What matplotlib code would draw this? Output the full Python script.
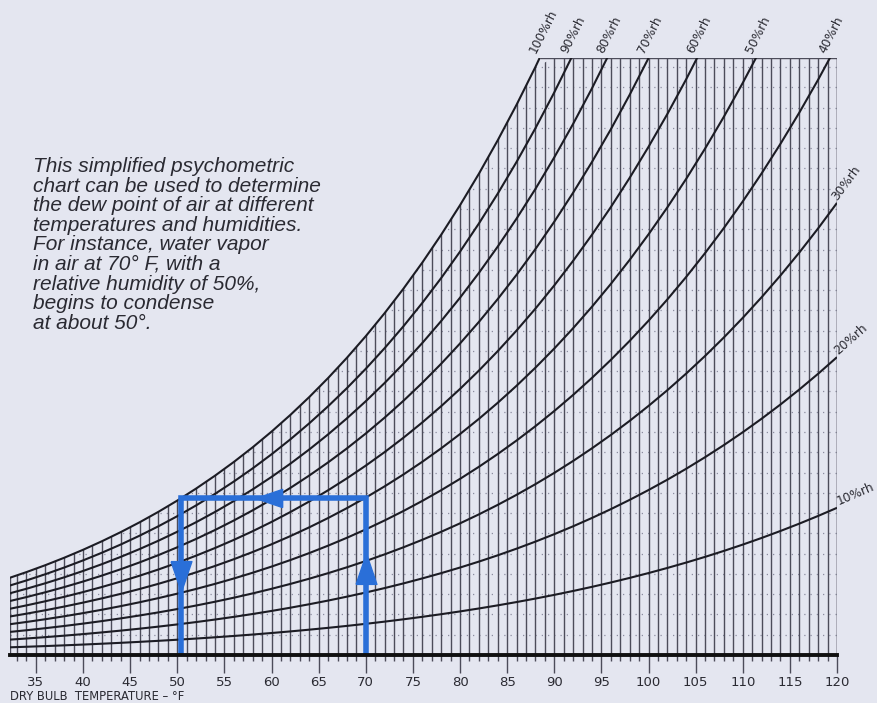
import numpy as np
import matplotlib
matplotlib.use("Agg")
import matplotlib.pyplot as plt
from matplotlib.patches import Polygon
from matplotlib.ticker import MultipleLocator

# ---- data ----
# saturation vapour pressure of water (kPa) at dry-bulb temperatures (°F)
temps_f = [32, 34, 36, 38, 40, 42, 44, 46, 48, 50, 52, 54, 56, 58, 60, 62, 64, 66,
           68, 70, 72, 74, 76, 78, 80, 82, 84, 86, 88, 90, 92, 94, 96, 98, 100,
           102, 104, 106, 108, 110, 112, 114, 116, 118, 120]
psat_kpa = [0.6109, 0.6620, 0.7167, 0.7755, 0.8384, 0.9059, 0.9780, 1.0553, 1.1378,
            1.2260, 1.3202, 1.4207, 1.5279, 1.6421, 1.7638, 1.8933, 2.0311, 2.1777,
            2.3335, 2.4989, 2.6746, 2.8609, 3.0586, 3.2681, 3.4900, 3.7249, 3.9738,
            4.2369, 4.5148, 4.8087, 5.1192, 5.4470, 5.7928, 6.1576, 6.5423, 6.9476,
            7.3747, 7.8244, 8.2976, 8.7954, 9.3189, 9.8690, 10.4470, 11.0541, 11.6915]
rh_levels = [0.1, 0.2, 0.3, 0.4, 0.5, 0.6, 0.7, 0.8, 0.9, 1.0]
rh_labels = ["10%rh", "20%rh", "30%rh", "40%rh", "50%rh", "60%rh", "70%rh",
             "80%rh", "90%rh", "100%rh"]
x_ticks = [35, 40, 45, 50, 55, 60, 65, 70, 75, 80, 85, 90, 95, 100, 105, 110, 115, 120]
t_min, t_max = 32.25, 120.0
w_top = 0.02945          # humidity ratio at top edge of chart (lb/lb)
w_grid_step = 0.001
example_dry_bulb = 70
example_rh = 0.5
example_dew_point = 50.4
p_atm = 101.325

note = ("This simplified psychometric\n"
        "chart can be used to determine\n"
        "the dew point of air at different\n"
        "temperatures and humidities.\n"
        "For instance, water vapor\n"
        "in air at 70\u00b0 F, with a\n"
        "relative humidity of 50%,\n"
        "begins to condense\n"
        "at about 50\u00b0.")

# ---- derived ----
T = np.array(temps_f, float)
P = np.array(psat_kpa, float)


def hum_ratio(phi, p):
    pv = phi * p
    return 0.622 * pv / (p_atm - pv)


BG = "#e4e6f0"
LINE = "#4c4c5a"
CURVE = "#1c1c24"
BLUE = "#2a6fd8"
TXT = "#2a2a32"

fig = plt.figure(figsize=(8.78, 7.03), dpi=100)
fig.patch.set_facecolor(BG)
W_px, H_px = 878, 703
ax = fig.add_axes([10 / W_px, (H_px - 655) / H_px, 827 / W_px, 597 / H_px])
ax.set_facecolor("none")
ax.set_xlim(t_min, t_max)
ax.set_ylim(0, w_top)

# clip region under the saturation curve
w_sat = np.minimum(hum_ratio(1.0, P), w_top)
poly_pts = [(t_min, 0)] + list(zip(T, w_sat)) + [(t_max, w_top), (t_max, 0)]
clip = Polygon(poly_pts, closed=True, transform=ax.transData,
               facecolor="none", edgecolor="none")
ax.add_patch(clip)

# dotted humidity-ratio grid
w_lines = np.arange(w_grid_step, w_top, w_grid_step)
hl = ax.hlines(w_lines, t_min, t_max, colors="#8c8ca0", linewidth=0.9,
               linestyles=(0, (1, 4)))
hl.set_clip_path(clip)

# vertical dry-bulb lines every degree
vx = np.concatenate([[t_min], np.arange(33, 121, 1)])
vl = ax.vlines(vx, 0, w_top, colors=LINE, linewidth=1.0)
vl.set_clip_path(clip)
ax.hlines(w_top, np.interp(w_top, hum_ratio(1.0, P), T), t_max,
          colors=LINE, linewidth=1.0)
ax.vlines(t_max, 0, w_top, colors=LINE, linewidth=1.0)

# relative humidity curves
for phi, lab in zip(rh_levels, rh_labels):
    w = hum_ratio(phi, P)
    ax.plot(T, w, color=CURVE, linewidth=1.5, solid_capstyle="butt")
    if w[-1] >= w_top:
        tc = np.interp(w_top, w, T)
        ax.text(tc - 0.15, w_top + 0.00012, lab, rotation=63, rotation_mode="anchor",
                ha="left", va="bottom", fontsize=8.8, color=TXT,
                family="DejaVu Sans", clip_on=False)
    else:
        p1 = ax.transData.transform((T[-2], w[-2]))
        p2 = ax.transData.transform((T[-1], w[-1]))
        ang = np.degrees(np.arctan2(p2[1] - p1[1], p2[0] - p1[0]))
        ax.annotate(lab, (T[-1], w[-1]), xytext=(2, 0), textcoords="offset points",
                    rotation=ang, rotation_mode="anchor", ha="left", va="bottom",
                    fontsize=8.8, color=TXT, family="DejaVu Sans",
                    annotation_clip=False)

# example path (blue)
w_ex = hum_ratio(example_rh, np.interp(example_dry_bulb, T, P))
path_x = [example_dry_bulb, example_dry_bulb, example_dew_point, example_dew_point]
path_y = [0, w_ex, w_ex, 0]
ax.plot(path_x, path_y, color=BLUE, linewidth=4.0, solid_joinstyle="miter",
        solid_capstyle="butt", zorder=5)
tri_up = [(-0.75, -1.0), (0.75, -1.0), (0.0, 1.2), (-0.75, -1.0)]
tri_dn = [(x, -y) for x, y in tri_up]
tri_lf = [(-y, x) for x, y in tri_up]
ax.plot([example_dry_bulb], [w_ex * 0.54], marker=tri_up, ms=24, color=BLUE, zorder=6)
ax.plot([(example_dry_bulb + example_dew_point) / 2 - 0.4], [w_ex], marker=tri_lf,
        ms=21, color=BLUE, zorder=6)
ax.plot([example_dew_point], [w_ex * 0.51], marker=tri_dn, ms=24, color=BLUE, zorder=6)

# axis styling
for s in ["top", "left", "right"]:
    ax.spines[s].set_visible(False)
ax.spines["bottom"].set_linewidth(2.8)
ax.spines["bottom"].set_color("#101010")
ax.spines["bottom"].set_zorder(7)
ax.yaxis.set_visible(False)
ax.xaxis.set_major_locator(MultipleLocator(5))
ax.xaxis.set_minor_locator(MultipleLocator(1))
ax.set_xticks(x_ticks)
ax.set_xticklabels([str(v) for v in x_ticks])
ax.tick_params(axis="x", which="major", length=13, width=1.0, color=LINE,
               labelsize=9.5, labelcolor=TXT, pad=2)
ax.tick_params(axis="x", which="minor", length=4, width=1.0, color=LINE)
for lbl in ax.get_xticklabels():
    lbl.set_family("DejaVu Sans")

fig.text(10 / W_px, 1 - 700 / H_px, "DRY BULB  TEMPERATURE \u2013 \u00b0F", fontsize=8.3,
         color=TXT, family="DejaVu Sans", ha="left", va="baseline")

fig.text(33 / W_px, 1 - 157 / H_px, note, fontsize=15, style="italic",
         family="Liberation Sans", color=TXT, ha="left", va="top",
         linespacing=1.04)

fig.savefig("out.png", dpi=100, facecolor=BG)
